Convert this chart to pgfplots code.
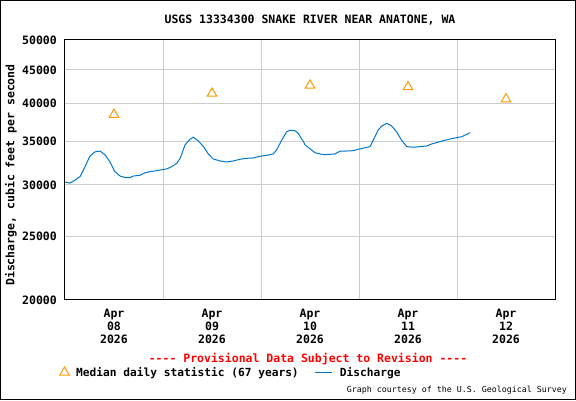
\documentclass[border=0pt]{standalone}
\usepackage{fontspec}
\setmainfont{DejaVu Sans Mono}[Ligatures=TeXOff]
\usepackage{pgfplots}
\pgfplotsset{compat=1.18}
\definecolor{usgsblue}{RGB}{0,119,204}
\definecolor{usgsorange}{RGB}{255,153,0}
\definecolor{gridgray}{RGB}{204,204,204}
\newcommand{\lab}{\fontsize{11.5}{13}\selectfont\bfseries}
\newcommand{\leg}{\fontsize{11.2}{13}\selectfont\bfseries}
\begin{document}
\begin{tikzpicture}[x=1pt,y=1pt]
\useasboundingbox (0,0) rectangle (576,400);
\draw[line width=1pt] (0.5,0.5) rectangle (575.5,399.5);
\begin{axis}[
  at={(65pt,100pt)}, anchor=south west,
  width=490pt, height=260pt, scale only axis,
  xmin=0, xmax=120,
  ymode=log, ymin=20000, ymax=50000,
  ytick={20000,25000,30000,35000,40000,45000,50000},
  yticklabels={20000,25000,30000,35000,40000,45000,50000},
  yticklabel style={font=\lab, anchor=east, inner sep=0pt, xshift=-8pt},
  xtick={12,36,60,84,108},
  xticklabels={{Apr\\08\\2026},{Apr\\09\\2026},{Apr\\10\\2026},{Apr\\11\\2026},{Apr\\12\\2026}},
  xticklabel style={font=\lab, align=center, anchor=north, inner sep=0pt, yshift=-9pt},
  minor xtick={24,48,72,96},
  xminorgrids=true, xmajorgrids=false, ymajorgrids=true, yminorgrids=false,
  major grid style={gridgray, line width=1pt},
  minor grid style={gridgray, line width=1pt},
  major tick length=0pt, minor tick length=0pt,
  axis line style={black, line width=1pt},
  legend style={at={(-0.0112,-0.2788)}, anchor=west, draw=none, fill=none,
    inner sep=0pt, font=\leg, legend columns=-1,
    /tikz/every odd column/.append style={column sep=5pt},
    /tikz/every even column/.append style={column sep=14pt}},
]
\addplot[only marks, mark=triangle, mark size=5.5pt, color=usgsorange, line width=1pt]
  coordinates {(12,38440) (36,41420) (60,42610) (84,42370) (108,40600)};
\addlegendentry{Median daily statistic (67 years)}
\addplot[usgsblue, line width=1pt, no marks] coordinates {
(0.0,30300) (1.2,30200) (2.4,30500) (3.7,30900) (4.9,32000) (6.1,33200) (7.3,33700)
(8.6,33800) (9.8,33350) (11.0,32550) (12.2,31450) (13.5,30950) (14.7,30800) (15.9,30780)
(16.7,30950) (18.4,31040) (19.6,31320) (20.8,31440) (22.0,31510) (23.3,31620) (24.9,31740)
(26.1,31990) (27.4,32380) (28.2,32950) (29.4,34540) (30.6,35240) (31.4,35490) (32.6,35060)
(33.9,34330) (35.1,33460) (36.3,32870) (38.0,32640) (39.6,32530) (41.2,32640) (42.9,32840)
(44.5,32950) (46.1,32990) (47.8,33190) (49.4,33300) (51.0,33460) (51.8,33930) (53.1,35150)
(54.3,36190) (55.1,36380) (56.3,36320) (57.1,36000) (57.6,35560) (58.4,34940) (58.8,34540)
(60.0,34080) (61.2,33610) (62.4,33460) (63.7,33380) (64.9,33420) (66.1,33460) (67.3,33780)
(69.0,33810) (70.6,33850) (71.8,34020) (73.0,34140) (74.7,34330) (75.5,35150) (76.7,36410)
(77.6,36930) (78.8,37280) (80.0,36930) (81.2,36190) (82.5,35060) (83.7,34330) (85.3,34260)
(86.9,34330) (88.6,34410) (89.8,34660) (91.0,34820) (92.6,35060) (94.3,35270) (95.9,35440)
(97.2,35560) (98.4,35860) (99.2,36060)};
\addlegendentry{Discharge}
\end{axis}
\node[font=\lab] at (310,380) {USGS 13334300 SNAKE RIVER NEAR ANATONE, WA};
\node[font=\lab, rotate=90] at (11,225) {Discharge, cubic feet per second};
\node[font=\lab, text=red] at (308,41) {---- Provisional Data Subject to Revision ----};
\node[font=\fontsize{8.3}{10}\selectfont, anchor=east, inner sep=0pt] at (567,10) {Graph courtesy of the U.S. Geological Survey};
\end{tikzpicture}
\end{document}
